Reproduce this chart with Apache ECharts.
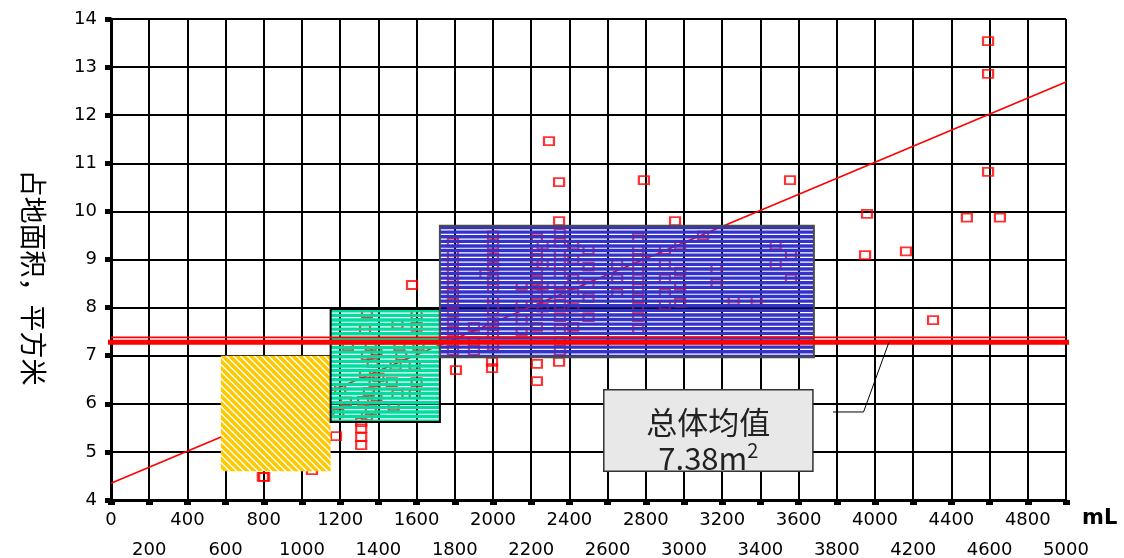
<!DOCTYPE html>
<html>
<head>
<meta charset="utf-8">
<script src="https://cdn.jsdelivr.net/npm/echarts@6/dist/echarts.min.js"></script>
<style>
  html, body { margin: 0; padding: 0; background: #fff; }
  #chart { width: 1124px; height: 558px; }
</style>
</head>
<body>
<div id="chart"></div>
<script>
// Individual dwellings: volume (mL) against floor area (m²)
const outerX = [795, 802, 1052, 1178, 1310, 1310, 1310, 1310, 1576, 1806, 1995, 1995, 2230, 2230,
  2293, 2346, 2346, 2346, 2790, 2953, 3555, 3948, 3958, 4162, 4304, 4481, 4592, 4592, 4592, 4654];
const outerY = [4.48, 4.48, 4.62, 5.33, 5.62, 5.49, 5.31, 5.14, 8.47, 6.70, 6.87, 6.74, 6.83, 6.47,
  11.46, 10.61, 9.80, 6.87, 10.65, 9.80, 10.65, 9.09, 9.95, 9.17, 7.74, 9.87, 13.54, 12.86, 10.82, 9.87];

// Dwellings inside the middle band
const midX = [1340, 1330, 1360, 1340, 1370, 1330, 1380, 1350, 1320, 1360, 1340, 1390, 1400, 1390,
  1500, 1510, 1490, 1470, 1500, 1480, 1520,
  1600, 1600, 1610, 1590, 1600, 1590,
  1240, 1200, 1230, 1190];
const midY = [7.87, 7.55, 7.20, 7.00, 6.85, 6.62, 6.45, 6.25, 6.06, 5.87, 5.75, 7.10, 6.55, 6.15,
  7.65, 7.20, 6.80, 6.45, 6.20, 5.95, 7.00,
  7.85, 7.60, 7.20, 6.80, 6.45, 6.20,
  7.20, 6.30, 6.05, 5.80];

// Dwellings inside the upper band
const highX = [1790, 1790, 1790, 1790, 1790, 1790, 1790, 1790, 1790, 1790, 1790, 1790,
  1900, 1900, 1900, 1960,
  2000, 2000, 2000, 2000, 2000, 2000, 2000, 2000, 2000, 2000, 2000,
  2150, 2150, 2150, 2150,
  2230, 2230, 2230, 2230, 2230, 2230, 2230, 2230, 2230,
  2260, 2260, 2260, 2260,
  2350, 2350, 2350, 2350, 2350, 2350, 2350, 2350, 2350, 2350, 2350, 2350,
  2420, 2420, 2420, 2420, 2420, 2420,
  2500, 2500, 2500, 2500, 2500,
  2650, 2650, 2650,
  2760, 2760, 2760, 2760, 2760, 2760, 2760, 2760, 2760, 2760,
  2900, 2900, 2900, 2900, 2900,
  2980, 2980, 2980, 2980,
  3100, 3170, 3170, 3260, 3380, 3480, 3480, 3560, 3560];
const highY = [9.35, 9.10, 8.90, 8.70, 8.50, 8.30, 8.10, 7.90, 7.70, 7.50, 7.30, 7.10,
  7.60, 7.30, 7.10, 8.70,
  9.50, 9.30, 9.05, 8.85, 8.60, 8.40, 8.15, 7.95, 7.70, 7.45, 7.20,
  8.45, 8.05, 7.75, 7.50,
  9.45, 9.20, 9.00, 8.75, 8.55, 8.30, 8.10, 7.85, 7.60,
  9.30, 8.90, 8.45, 8.00,
  9.55, 9.35, 9.10, 8.90, 8.70, 8.45, 8.25, 8.05, 7.80, 7.55, 7.30, 7.10,
  9.30, 9.00, 8.60, 8.30, 8.00, 7.60,
  9.20, 8.85, 8.50, 8.20, 7.80,
  8.90, 8.60, 8.30,
  9.45, 9.20, 9.00, 8.80, 8.60, 8.40, 8.20, 8.00, 7.80, 7.55,
  9.20, 8.90, 8.60, 8.30, 8.05,
  9.30, 8.75, 8.45, 8.10,
  9.50, 8.80, 8.50, 8.15, 8.15, 9.30, 8.90, 9.10, 8.60];

// Linear fit of floor area on volume
const trendX = [0, 5000];
const trendY = [4.35, 12.69];

// Overall mean and the highlighted reference level
const meanValue = 7.38;
const meanX = [0, 5000];
const bandLevel = 7.28;
const bandX = [-28, 5060];

// Size bands: volume range and floor-area range
const zoneX0 = [575, 1150, 1722];
const zoneX1 = [1150, 1722, 3680];
const zoneY0 = [4.60, 5.62, 6.97];
const zoneY1 = [7.00, 7.97, 9.70];

// Mean annotation box and its leader line
const noteX = [2580, 3675];
const noteY = [4.60, 6.29];
const leaderX = [3780, 3940, 4073];
const leaderY = [5.83, 5.83, 7.28];

// Volume axis: 0–5000 mL in 200 mL steps, labels alternate between two rows
const volMin = 0, volMax = 5000, volStep = 200, rowStep = 400;

const zip = (xs, ys) => xs.map((x, i) => [x, ys[i]]);

function makeHatch(color) {
  const n = 7;
  const c = document.createElement('canvas');
  c.width = n; c.height = n;
  const g = c.getContext('2d');
  g.fillStyle = '#ffffff';
  g.fillRect(0, 0, n, n);
  g.strokeStyle = color;
  g.lineWidth = 3.6;
  for (const k of [-n, 0, n]) {
    g.beginPath();
    g.moveTo(k - 1, -1);
    g.lineTo(k + n + 1, n + 1);
    g.stroke();
  }
  return c;
}
const hatch = makeHatch('#FFC800');

const zoneStyles = [
  { kind: 'hatch' },
  { kind: 'stripe', color: '#00DD9E', border: '#000000' },
  { kind: 'stripe', color: '#3333CC', border: '#4a4a4a' }
];

const chart = echarts.init(document.getElementById('chart'), null, { renderer: 'canvas' });

const labelFont = 'DejaVu Sans, Verdana, sans-serif';
const cjkFont = '"Noto Sans CJK SC", sans-serif';
const labelBase = { fontFamily: labelFont, fontSize: 18, color: '#000',
  showMinLabel: true, showMaxLabel: true, hideOverlap: false };

chart.setOption({
  animation: false,
  backgroundColor: '#ffffff',
  grid: { left: 111, right: 58, top: 19, bottom: 58, containLabel: false, outerBoundsMode: 'none' },
  xAxis: [
    {
      type: 'value', min: volMin, max: volMax, interval: volStep,
      name: 'mL', nameLocation: 'end', nameGap: 16, nameMoveOverlap: false,
      nameTextStyle: { fontFamily: labelFont, fontSize: 21, fontWeight: 'bold', color: '#000',
        verticalAlign: 'top', padding: [8, 0, 0, 0] },
      axisLine: { lineStyle: { color: '#000', width: 3 } },
      axisTick: { show: true, length: 5, lineStyle: { color: '#000', width: 7 } },
      splitLine: { show: true, lineStyle: { color: '#000', width: 2 } },
      axisLabel: Object.assign({}, labelBase, {
        margin: 11,
        formatter: v => (v % rowStep === 0 ? String(v) : '')
      })
    },
    {
      // second label row for the in-between ticks
      type: 'value', min: volMin, max: volMax, interval: volStep, position: 'bottom',
      axisLine: { show: false }, axisTick: { show: false }, splitLine: { show: false },
      axisLabel: Object.assign({}, labelBase, {
        margin: 41,
        formatter: v => (v % rowStep !== 0 ? String(v) : '')
      })
    }
  ],
  yAxis: {
    type: 'value', min: 4, max: 14, interval: 1,
    name: '占地面积，平方米', nameLocation: 'middle', nameRotate: -90, nameGap: 64,
    nameTextStyle: { fontFamily: cjkFont, fontSize: 27, color: '#000', padding: [0, 0, 0, 36] },
    axisLine: { lineStyle: { color: '#000', width: 3 } },
    axisTick: { show: true, length: 6, lineStyle: { color: '#000', width: 5 } },
    splitLine: { show: true, lineStyle: { color: '#000', width: 2 } },
    axisLabel: { fontFamily: labelFont, fontSize: 18, color: '#000', margin: 14 }
  },
  series: [
    {
      name: 'trend', type: 'line', z: 2, silent: true, showSymbol: false,
      data: zip(trendX, trendY),
      lineStyle: { color: '#FF0000', width: 1.6 }
    },
    {
      name: 'dwellings', type: 'scatter', z: 2, silent: true,
      symbol: 'rect', symbolSize: [10, 8],
      itemStyle: { color: 'rgba(255,255,255,0)', borderColor: '#FF0000', borderWidth: 2 },
      data: zip(outerX, outerY).concat(zip(midX, midY), zip(highX, highY))
    },
    {
      name: 'bands', type: 'custom', z: 3, silent: true,
      encode: { x: [0, 1], y: [2, 3] },
      data: zoneX0.map((x0, i) => [x0, zoneX1[i], zoneY0[i], zoneY1[i]]),
      renderItem(params, api) {
        const tl = api.coord([api.value(0), api.value(3)]);
        const br = api.coord([api.value(1), api.value(2)]);
        const x = tl[0], y = tl[1], w = br[0] - tl[0], h = br[1] - tl[1];
        const st = zoneStyles[params.dataIndex];
        if (st.kind === 'hatch') {
          return { type: 'rect', shape: { x, y, width: w, height: h },
            style: { fill: { image: hatch, repeat: 'repeat' } } };
        }
        const children = [];
        const step = 4.6;
        for (let yy = y; yy < y + h; yy += step) {
          const hh = Math.min(3.4, y + h - yy);
          children.push({ type: 'rect', shape: { x, y: yy, width: w, height: hh },
            style: { fill: st.color } });
        }
        children.push({ type: 'rect', shape: { x, y, width: w, height: h },
          style: { fill: 'none', stroke: st.border, lineWidth: 2 } });
        return { type: 'group', children };
      }
    },
    {
      name: 'mean', type: 'line', z: 4, silent: true, showSymbol: false,
      data: meanX.map(x => [x, meanValue]),
      lineStyle: { color: '#FF0000', width: 1.6 }
    },
    {
      name: 'band level', type: 'line', z: 4, silent: true, showSymbol: false, clip: false,
      data: bandX.map(x => [x, bandLevel]),
      lineStyle: { color: '#FF0000', width: 5 }
    },
    {
      name: 'leader', type: 'line', z: 5, silent: true, showSymbol: false, clip: false,
      data: zip(leaderX, leaderY),
      lineStyle: { color: '#000', width: 1 }
    },
    {
      name: 'note', type: 'custom', z: 6, silent: true, clip: false,
      encode: { x: [0, 1], y: [2, 3] },
      data: [[noteX[0], noteX[1], noteY[0], noteY[1]]],
      renderItem(params, api) {
        const tl = api.coord([api.value(0), api.value(3)]);
        const br = api.coord([api.value(1), api.value(2)]);
        const x = tl[0], y = tl[1], w = br[0] - tl[0], h = br[1] - tl[1];
        return {
          type: 'group',
          children: [
            { type: 'rect', shape: { x, y, width: w, height: h },
              style: { fill: '#E8E8E8', stroke: '#333', lineWidth: 1.5 } },
            { type: 'text',
              style: {
                x: x + w / 2, y: y + h * 0.62,
                align: 'center', verticalAlign: 'middle',
                text: '{t|总体均值}\n{v|' + meanValue.toFixed(2) + 'm}{s|2}',
                rich: {
                  t: { fontFamily: cjkFont, fontSize: 31, lineHeight: 36, fill: '#222', color: '#222' },
                  v: { fontFamily: cjkFont, fontSize: 31, lineHeight: 36, fill: '#222', color: '#222' },
                  s: { fontFamily: cjkFont, fontSize: 20, lineHeight: 22, verticalAlign: 'top', fill: '#222', color: '#222' }
                }
              }
            }
          ]
        };
      }
    }
  ]
});
</script>
</body>
</html>
